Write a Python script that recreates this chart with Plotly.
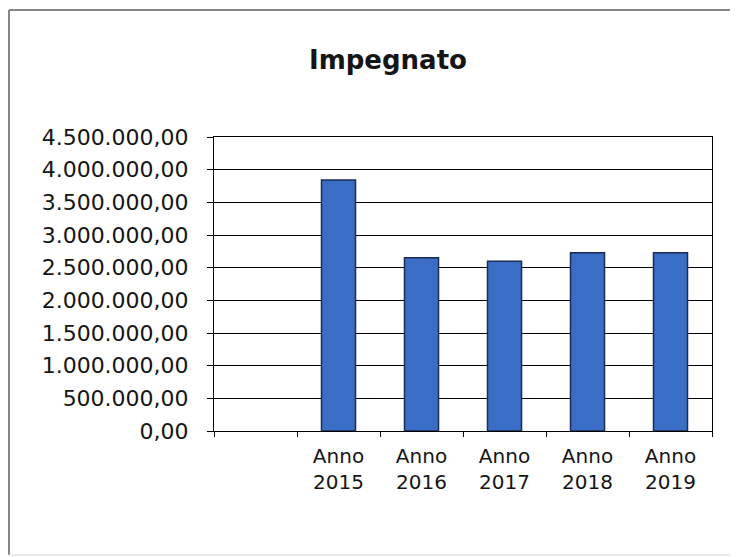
import plotly.graph_objects as go

categories = [" ", "Anno<br>2015", "Anno<br>2016", "Anno<br>2017", "Anno<br>2018", "Anno<br>2019"]
impegnato = [None, 3840000, 2650000, 2600000, 2730000, 2730000]
y_tickvals = [0, 500000, 1000000, 1500000, 2000000, 2500000, 3000000, 3500000, 4000000, 4500000]
y_ticktext = ["0,00", "500.000,00", "1.000.000,00", "1.500.000,00", "2.000.000,00",
              "2.500.000,00", "3.000.000,00", "3.500.000,00", "4.000.000,00", "4.500.000,00"]

fig = go.Figure()
fig.add_trace(go.Bar(
    x=categories, y=impegnato,
    marker=dict(color="#3a6ec4", line=dict(color="#1b2b55", width=1.5)),
    width=0.41,
))

x_left, x_right, y_top, y_bot = -0.4116, 1.2, 1.432, -0.422
fig.update_layout(
    width=730, height=549,
    margin=dict(l=206, r=26, t=129, b=126),
    paper_bgcolor="white", plot_bgcolor="white",
    showlegend=False,
    title=dict(text="<b>Impegnato</b>", x=0.5205, xanchor="center", y=0.905, yanchor="middle",
               font=dict(family="DejaVu Sans", size=26, color="#151515")),
    font=dict(family="DejaVu Sans", color="#151515"),
    shapes=[
        dict(type="line", xref="paper", yref="paper", x0=x_left, x1=x_right, y0=y_top, y1=y_top,
             line=dict(color="#858585", width=2), layer="below"),
        dict(type="line", xref="paper", yref="paper", x0=x_left, x1=x_left, y0=y_bot, y1=y_top,
             line=dict(color="#858585", width=2), layer="below"),
        dict(type="line", xref="paper", yref="paper", x0=x_left, x1=x_right, y0=y_bot, y1=y_bot,
             line=dict(color="#e2e2e2", width=1.5), layer="below"),
    ],
)

fig.update_xaxes(
    type="category", categoryorder="array", categoryarray=categories,
    showline=True, linecolor="black", linewidth=1, mirror=True,
    ticks="outside", tickson="boundaries", ticklen=5, tickcolor="black",
    tickfont=dict(family="DejaVu Sans", size=20, color="#151515"),
    ticklabelstandoff=7,
    showgrid=False,
)
fig.update_yaxes(
    range=[0, 4500000], tickvals=y_tickvals, ticktext=y_ticktext,
    showline=True, linecolor="black", linewidth=1, mirror=True,
    ticks="outside", ticklen=6, tickcolor="black",
    showgrid=True, gridcolor="black", gridwidth=1,
    tickfont=dict(family="DejaVu Sans", size=22, color="#151515"),
    ticklabelstandoff=14,
    zeroline=False,
)

fig.write_html("out.html")
